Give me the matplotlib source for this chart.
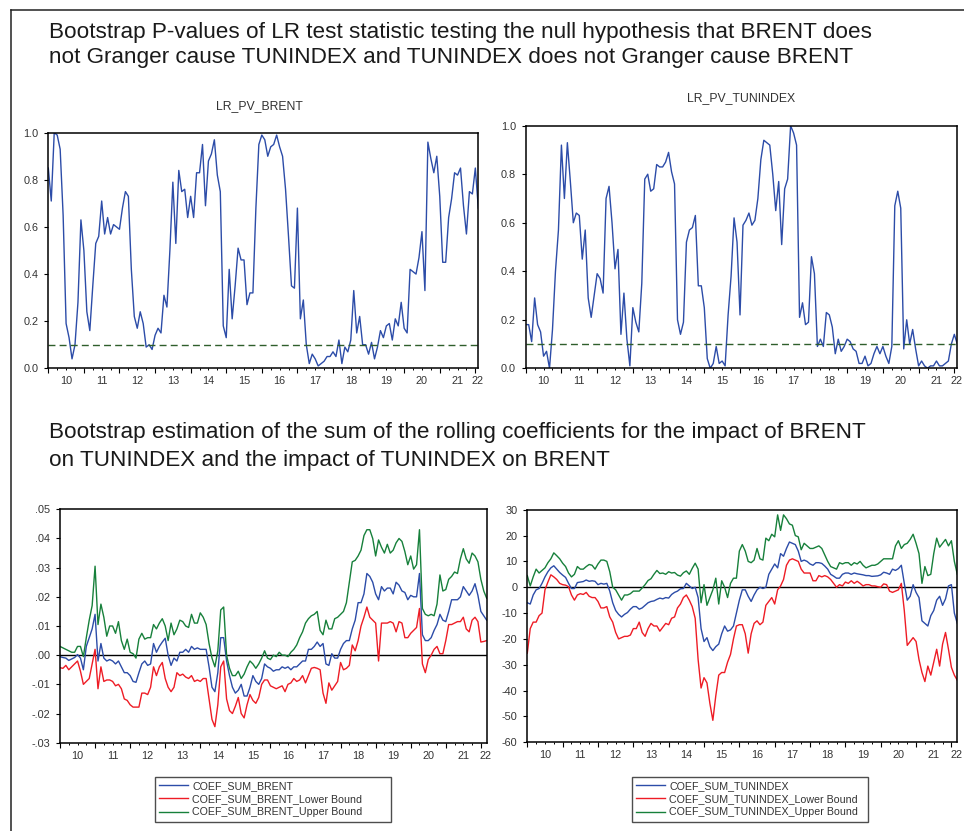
import numpy as np
import matplotlib
matplotlib.use("Agg")
import matplotlib.pyplot as plt
from matplotlib.transforms import offset_copy
from matplotlib.lines import Line2D

plt.rcParams["font.family"] = ["Liberation Sans", "DejaVu Sans"]
plt.rcParams["axes.unicode_minus"] = False

# monthly series, Jan 2010 onwards
year_labels = ["10", "11", "12", "13", "14", "15", "16", "17", "18", "19", "20", "21", "22"]

lr_pv_brent = [
    0.85, 0.71, 1.00, 0.99, 0.93, 0.65, 0.19, 0.13, 0.04, 0.10, 0.28, 0.63,
    0.50, 0.24, 0.16, 0.35, 0.53, 0.56, 0.71, 0.57, 0.64, 0.57, 0.61, 0.60,
    0.59, 0.68, 0.75, 0.73, 0.42, 0.22, 0.17, 0.24, 0.19, 0.09, 0.10, 0.08,
    0.14, 0.17, 0.15, 0.31, 0.26, 0.50, 0.79, 0.53, 0.84, 0.75, 0.76, 0.64,
    0.73, 0.64, 0.83, 0.83, 0.95, 0.69, 0.88, 0.91, 0.97, 0.82, 0.75, 0.18,
    0.13, 0.42, 0.21, 0.35, 0.51, 0.46, 0.46, 0.27, 0.32, 0.32, 0.68, 0.95,
    0.99, 0.97, 0.90, 0.94, 0.95, 0.99, 0.94, 0.90, 0.76, 0.56, 0.35, 0.34,
    0.68, 0.21, 0.29, 0.10, 0.02, 0.06, 0.04, 0.01, 0.02, 0.03, 0.05, 0.05,
    0.07, 0.05, 0.12, 0.02, 0.09, 0.07, 0.12, 0.33, 0.15, 0.22, 0.10, 0.10,
    0.06, 0.11, 0.04, 0.09, 0.16, 0.13, 0.18, 0.19, 0.12, 0.21, 0.18, 0.28,
    0.17, 0.15, 0.42, 0.41, 0.40, 0.47, 0.58, 0.33, 0.96, 0.89, 0.83, 0.90,
    0.73, 0.45, 0.45, 0.64, 0.72, 0.83, 0.82, 0.85, 0.69, 0.57, 0.75, 0.74,
    0.85, 0.68,
]

lr_pv_tunindex = [
    0.18, 0.18, 0.11, 0.29, 0.18, 0.15, 0.05, 0.07, 0.00, 0.16, 0.40, 0.57,
    0.92, 0.70, 0.93, 0.77, 0.60, 0.64, 0.63, 0.45, 0.57, 0.29, 0.21, 0.30,
    0.39, 0.37, 0.31, 0.70, 0.75, 0.60, 0.41, 0.49, 0.14, 0.31, 0.12, 0.01,
    0.25, 0.19, 0.15, 0.35, 0.78, 0.80, 0.73, 0.74, 0.84, 0.83, 0.83, 0.85,
    0.89, 0.81, 0.76, 0.20, 0.14, 0.19, 0.52, 0.57, 0.58, 0.63, 0.34, 0.34,
    0.25, 0.04, 0.00, 0.02, 0.09, 0.02, 0.03, 0.01, 0.22, 0.38, 0.62, 0.52,
    0.22, 0.59, 0.61, 0.64, 0.59, 0.61, 0.70, 0.86, 0.94, 0.93, 0.92, 0.80,
    0.65, 0.77, 0.51, 0.74, 0.78, 1.00, 0.97, 0.92, 0.21, 0.27, 0.18, 0.19,
    0.46, 0.39, 0.09, 0.12, 0.09, 0.23, 0.22, 0.17, 0.06, 0.12, 0.07, 0.09,
    0.12, 0.11, 0.08, 0.07, 0.02, 0.02, 0.05, 0.01, 0.02, 0.06, 0.09, 0.06,
    0.09, 0.05, 0.02, 0.09, 0.67, 0.73, 0.66, 0.08, 0.20, 0.10, 0.16, 0.08,
    0.01, 0.03, 0.01, 0.00, 0.01, 0.01, 0.03, 0.01, 0.01, 0.02, 0.03, 0.10,
    0.14, 0.10,
]

coef_sum_brent = [
    -0.0005, -0.0008, -0.001, -0.0018, -0.0013, -0.0008, 0.0002, -0.001, -0.005, 0.003, 0.006, 0.009,
    0.014, -0.002, 0.004, -0.001, -0.002, -0.0015, -0.002, -0.003, -0.002, -0.004, -0.006, -0.006,
    -0.007, -0.009, -0.0093, -0.006, -0.003, -0.002, -0.0035, -0.003, 0.004, 0.001, 0.003, 0.0045,
    0.0058, 0.000, -0.0035, -0.001, -0.002, 0.001, 0.001, 0.002, 0.001, 0.003, 0.002, 0.0025,
    0.002, 0.002, 0.002, -0.004, -0.011, -0.0125, -0.006, 0.006, 0.006, -0.002, -0.007, -0.011,
    -0.013, -0.012, -0.010, -0.014, -0.014, -0.011, -0.007, -0.009, -0.010, -0.008, -0.003, -0.004,
    -0.0045, -0.0055, -0.005, -0.005, -0.004, -0.0045, -0.004, -0.005, -0.004, -0.004, -0.003, -0.002,
    -0.002, 0.002, 0.002, 0.003, 0.0045, 0.003, 0.004, -0.003, -0.0035, 0.0005, -0.001, -0.001,
    0.002, 0.004, 0.005, 0.005, 0.009, 0.012, 0.018, 0.018, 0.021, 0.028, 0.027, 0.025,
    0.021, 0.019, 0.0235, 0.022, 0.023, 0.023, 0.021, 0.025, 0.024, 0.022, 0.0215, 0.019,
    0.0205, 0.020, 0.020, 0.028, 0.007, 0.005, 0.005, 0.006, 0.0085, 0.0105, 0.014, 0.012,
    0.0115, 0.015, 0.019, 0.019, 0.019, 0.020, 0.0235, 0.022, 0.0205, 0.022, 0.0245, 0.0205,
    0.015, 0.0135, 0.012,
]

coef_sum_brent_lower = [
    -0.0043, -0.0045, -0.0035, -0.005, -0.004, -0.003, -0.002, -0.0055, -0.010, -0.009, -0.008, -0.003,
    0.002, -0.0115, -0.004, -0.009, -0.0085, -0.0085, -0.009, -0.0105, -0.010, -0.0115, -0.015, -0.0155,
    -0.017, -0.0178, -0.0178, -0.0178, -0.013, -0.013, -0.0135, -0.011, -0.004, -0.007, -0.004, -0.0025,
    -0.008, -0.011, -0.0125, -0.011, -0.006, -0.007, -0.0065, -0.0075, -0.008, -0.007, -0.009, -0.0085,
    -0.009, -0.008, -0.008, -0.015, -0.022, -0.0245, -0.017, -0.004, -0.002, -0.015, -0.019, -0.020,
    -0.0175, -0.0145, -0.020, -0.0215, -0.017, -0.0135, -0.0155, -0.0165, -0.0145, -0.010, -0.0085, -0.0085,
    -0.0105, -0.011, -0.0115, -0.011, -0.0105, -0.0125, -0.010, -0.0095, -0.008, -0.009, -0.0085, -0.007,
    -0.0095, -0.007, -0.0045, -0.0042, -0.0045, -0.005, -0.013, -0.0165, -0.0095, -0.012, -0.0105, -0.009,
    -0.0025, -0.005, -0.0045, -0.0035, 0.0035, 0.0015, 0.005, 0.010, 0.013, 0.0165, 0.013, 0.012,
    0.011, -0.002, 0.011, 0.011, 0.011, 0.0115, 0.011, 0.008, 0.0115, 0.011, 0.006, 0.006,
    0.0075, 0.0085, 0.0095, 0.016, -0.003, -0.006, -0.0015, 0.000, 0.002, 0.003, 0.0005, 0.0005,
    0.005, 0.0105, 0.0105, 0.011, 0.0115, 0.0115, 0.013, 0.009, 0.008, 0.012, 0.013, 0.0115,
    0.0045, 0.0047, 0.005,
]

coef_sum_brent_upper = [
    0.003, 0.0025, 0.002, 0.0015, 0.001, 0.001, 0.003, 0.003, -0.0005, 0.006, 0.012, 0.017,
    0.0305, 0.0105, 0.0175, 0.013, 0.0065, 0.010, 0.010, 0.0075, 0.0115, 0.005, 0.002, 0.0055,
    0.001, 0.0005, -0.001, 0.0055, 0.0075, 0.0055, 0.006, 0.006, 0.0105, 0.009, 0.011, 0.0125,
    0.010, 0.005, 0.011, 0.007, 0.009, 0.012, 0.0115, 0.010, 0.0095, 0.014, 0.011, 0.011,
    0.0145, 0.013, 0.0105, 0.004, -0.001, -0.004, 0.0015, 0.0155, 0.0165, 0.000, -0.0045, -0.007,
    -0.007, -0.0055, -0.008, -0.0065, -0.004, -0.002, -0.003, -0.0045, -0.003, -0.001, 0.0015, -0.001,
    -0.0015, 0.000, -0.0005, 0.001, 0.000, 0.000, -0.0005, 0.001, 0.002, 0.0035, 0.006, 0.008,
    0.011, 0.0125, 0.0135, 0.014, 0.015, 0.0085, 0.007, 0.012, 0.009, 0.009, 0.0125, 0.013,
    0.014, 0.015, 0.018, 0.025, 0.032, 0.0325, 0.034, 0.036, 0.041, 0.043, 0.043, 0.040,
    0.034, 0.0395, 0.037, 0.035, 0.038, 0.035, 0.036, 0.0385, 0.040, 0.039, 0.0355, 0.031,
    0.034, 0.0295, 0.031, 0.043, 0.016, 0.014, 0.0135, 0.014, 0.0135, 0.0175, 0.0275, 0.022,
    0.0225, 0.026, 0.027, 0.0285, 0.028, 0.033, 0.0365, 0.033, 0.0315, 0.035, 0.034, 0.032,
    0.026, 0.022, 0.0195,
]

coef_sum_tunindex = [
    -6, -6.5, -3, -1, -0.5, 1.5, 4, 6, 7.5, 8.3, 7, 5.7,
    4.7, 3.8, 1.5, -0.5, -0.5, 1.8, 2, 2.2, 2.8, 2.3, 2.5, 2.3,
    1, 1.5, 1.2, 1.5, -1.5, -6, -9, -10.5, -11.5, -10.5, -9.8, -8.5,
    -7.5, -7.5, -8.5, -8, -7, -6, -5.5, -5.3, -4.7, -4.2, -4.5, -4,
    -4.2, -2.8, -2, -1.5, -0.6, -0.5, 1.5, 0.5, -0.5, 0, -4, -16,
    -21, -19.5, -23, -24.5, -23, -22, -18, -15, -17, -16.5, -15, -10,
    -5, -1, -1, -3.5, -5.5, -3, -1, 0, -0.5, 0, 5, 7,
    9, 7.5, 13, 12, 15, 17.5, 17, 16.5, 14, 10, 10.5, 10,
    9, 8.5, 9.5, 9.5, 9.2, 8.2, 7, 5, 4.3, 3.5, 3.5, 5,
    5.5, 5.5, 5, 5.5, 5.2, 5, 4.8, 4.5, 4.5, 4.2, 4.3, 4.4,
    4.8, 5.8, 5.5, 5, 7, 6.5, 7.2, 8.5, 1.5, -5, -3.5, 1,
    -2, -4, -13, -14, -15, -11, -9, -5, -3.5, -7, -4.5, 0.5,
    1, -10, -14,
]

coef_sum_tunindex_lower = [
    -25.5, -16, -13.5, -13.5, -11, -10, -1, 2, 4.8, 4, 3, 1.5,
    1, 0.8, 0.2, -3, -5, -3, -2.5, -2.8, -2, -3.5, -4, -4,
    -5.5, -8, -8, -7.5, -11.5, -13.5, -17.5, -20, -19.5, -19, -19, -18.5,
    -16, -16, -13.5, -17.5, -19, -16, -14, -15, -15, -17, -15.5, -14,
    -14.5, -12, -11.5, -8, -6.5, -4, -3, -5, -7.5, -12, -28, -39,
    -35, -37, -45, -51.5, -42, -34, -33, -33, -29, -26, -20, -15,
    -14.5, -14.5, -18, -25.5, -18, -14, -13, -14.5, -13.5, -7, -5.5, -4,
    -6.5, -1, 0.5, 3, 8.5, 10.5, 11, 10.5, 10, 7, 5.5, 5.5,
    5.5, 2.5, 2.5, 4.5, 4, 4.5, 4, 3, 1.5, 0, 1, 0.5,
    2, 1.5, 2.5, 1.5, 2.3, 1.5, 0.5, 1, 1, 0.5, 0.5, 0.2,
    0, 1.3, 1, -1.5, -2, -1.5, -1, 1.5, -9, -22.5, -21, -19.5,
    -21, -28, -33, -36.5, -30.5, -34, -29, -24, -30.5, -22, -17.5, -24,
    -31, -34, -36,
]

coef_sum_tunindex_upper = [
    4.5, 0.5, 4, 7, 5.5, 6.5, 7.5, 9.5, 11, 13.3, 12.2, 11,
    9.3, 8, 5.5, 4, 5, 8, 7, 7, 8, 8.8, 8.5, 7,
    9, 10.5, 10.5, 10, 6, 0, -1, -3, -5, -3, -3, -2.5,
    -1.5, -1.5, -1.5, -0.3, 1, 2.6, 3.3, 5, 6.5, 5.3, 5.5, 5,
    6, 5.5, 5.7, 4.7, 4.3, 5.6, 6.3, 5, 7.3, 9.3, 7, -6,
    1, -7, -4, -1, 3.5, -6.5, 2.5, 0, -4, 1.5, 3.5, 3.5,
    14, 16.5, 14, 10, 9.5, 10.5, 15, 11, 10.5, 19, 18, 20.5,
    19.5, 28, 22, 28, 26.5, 24.5, 24, 20, 19.5, 14.5, 17, 16,
    15, 15, 15.5, 16, 15, 12.5, 10, 8, 7.5, 7, 9.5, 9,
    9.5, 9.5, 8.5, 9.5, 9, 10, 8.5, 7.5, 8, 8.5, 8.5, 9,
    10, 11, 11, 11, 11, 16, 18, 15, 16.5, 17, 18.5, 20.5,
    17, 13, 1.5, 8, 4.5, 5, 13, 19, 15.5, 17, 18.5, 16,
    18, 10, 5,
]

BLUE = "#2c4ca8"
RED = "#ee1c25"
GREEN = "#17803b"
DASH_GREEN = "#2f5e2c"

W, H = 964, 831
fig = plt.figure(figsize=(W / 100, H / 100), dpi=100)


def px_axes(left, top, right, bottom):
    return fig.add_axes([left / W, 1 - bottom / H, (right - left) / W, (bottom - top) / H])


def style_axes(ax, n):
    ax.set_xlim(0, n - 1)
    for s in ax.spines.values():
        s.set_linewidth(1.1)
    ax.set_xticks(np.arange(0, n, 12))
    ax.set_xticks(np.arange(0, n, 3), minor=True)
    ax.set_xticklabels([])
    ax.tick_params(axis="x", which="major", direction="out", length=3.4, width=0.8, top=False)
    ax.tick_params(axis="x", which="minor", direction="out", length=1.7, width=0.7, top=False)
    ax.tick_params(axis="y", which="major", direction="out", length=3.0, width=0.8,
                   labelsize=7.8, pad=4, right=False, labelcolor="#333333")
    trans = offset_copy(ax.get_xaxis_transform(), fig=fig, y=-9.4, units="points")
    for i, lab in enumerate(year_labels):
        xp = 12 * i + 6
        if xp > n - 1:
            xp = n - 1.3
        ax.text(xp, 0, lab, transform=trans, ha="center", va="center",
                fontsize=7.8, color="#333333")


# outer frame
fig.add_artist(Line2D([11 / W, 11 / W], [0, 1 - 10 / H], color="#222222", lw=1.1))
fig.add_artist(Line2D([11 / W, 1], [1 - 10 / H, 1 - 10 / H], color="#222222", lw=1.1))

TITLE_FS = 16.2
fig.text(49 / W, 1 - 38 / H,
         "Bootstrap P-values of LR test statistic testing the null hypothesis that BRENT does",
         fontsize=TITLE_FS, va="baseline", ha="left", color="#1a1a1a")
fig.text(49 / W, 1 - 63 / H,
         "not Granger cause TUNINDEX and TUNINDEX does not Granger cause BRENT",
         fontsize=TITLE_FS, va="baseline", ha="left", color="#1a1a1a")
fig.text(49 / W, 1 - 438 / H,
         "Bootstrap estimation of the sum of the rolling coefficients for the impact of BRENT",
         fontsize=TITLE_FS, va="baseline", ha="left", color="#1a1a1a")
fig.text(49 / W, 1 - 466 / H,
         "on TUNINDEX and the impact of TUNINDEX on BRENT",
         fontsize=TITLE_FS, va="baseline", ha="left", color="#1a1a1a")

# top left
ax1 = px_axes(48.3, 132.7, 478.3, 368.3)
ax1.plot(np.arange(len(lr_pv_brent)), lr_pv_brent, color=BLUE, lw=1.0)
ax1.axhline(0.1, color=DASH_GREEN, lw=1.0, dashes=(5, 3))
style_axes(ax1, len(lr_pv_brent))
ax1.set_ylim(0, 1.0)
ax1.set_yticks(np.arange(0, 1.01, 0.2))
ax1.set_yticklabels(["%.1f" % v for v in np.arange(0, 1.01, 0.2)])
fig.text(259 / W, 1 - 105.7 / H, "LR_PV_BRENT", fontsize=8.8, ha="center", va="center",
         color="#333333")

# top right
ax2 = px_axes(525.7, 125.7, 957.3, 368.3)
ax2.plot(np.arange(len(lr_pv_tunindex)), lr_pv_tunindex, color=BLUE, lw=1.0)
ax2.axhline(0.1, color=DASH_GREEN, lw=1.0, dashes=(5, 3))
style_axes(ax2, len(lr_pv_tunindex))
ax2.set_ylim(0, 1.0)
ax2.set_yticks(np.arange(0, 1.01, 0.2))
ax2.set_yticklabels(["%.1f" % v for v in np.arange(0, 1.01, 0.2)])
fig.text(740.7 / W, 1 - 98.3 / H, "LR_PV_TUNINDEX", fontsize=8.8, ha="center", va="center",
         color="#333333")

# bottom left
ax3 = px_axes(60, 509.3, 486.7, 742.7)
ax3.axhline(0, color="black", lw=1.0)
ax3.plot(np.arange(len(coef_sum_brent)), coef_sum_brent, color=BLUE, lw=1.0,
         label="COEF_SUM_BRENT")
ax3.plot(np.arange(len(coef_sum_brent_lower)), coef_sum_brent_lower, color=RED, lw=1.0,
         label="COEF_SUM_BRENT_Lower Bound")
ax3.plot(np.arange(len(coef_sum_brent_upper)), coef_sum_brent_upper, color=GREEN, lw=1.0,
         label="COEF_SUM_BRENT_Upper Bound")
style_axes(ax3, len(coef_sum_brent))
ax3.set_ylim(-0.03, 0.05)
yt3 = np.arange(-3, 6) / 100
ax3.set_yticks(yt3)
ax3.set_yticklabels([("%.2f" % v).replace("0.", ".") for v in yt3])

# bottom right
ax4 = px_axes(527.3, 509.7, 957.3, 742.3)
ax4.axhline(0, color="black", lw=1.0)
ax4.plot(np.arange(len(coef_sum_tunindex)), coef_sum_tunindex, color=BLUE, lw=1.0,
         label="COEF_SUM_TUNINDEX")
ax4.plot(np.arange(len(coef_sum_tunindex_lower)), coef_sum_tunindex_lower, color=RED, lw=1.0,
         label="COEF_SUM_TUNINDEX_Lower Bound")
ax4.plot(np.arange(len(coef_sum_tunindex_upper)), coef_sum_tunindex_upper, color=GREEN, lw=1.0,
         label="COEF_SUM_TUNINDEX_Upper Bound")
style_axes(ax4, len(coef_sum_tunindex))
ax4.set_ylim(-60, 30)
ax4.set_yticks(np.arange(-60, 31, 10))

# legends
for ax, (l, r) in ((ax3, (155, 390.7)), (ax4, (632, 868))):
    top, bot = 776.7, 822
    leg = ax.legend(loc="upper left", mode="expand",
                    bbox_to_anchor=(l / W, 1 - bot / H, (r - l) / W, (bot - top) / H),
                    bbox_transform=fig.transFigure, fontsize=7.7, frameon=True,
                    fancybox=False, shadow=False, handlelength=2.7, handletextpad=0.4,
                    labelspacing=0.3, borderpad=0.4, borderaxespad=0)
    leg.get_frame().set_edgecolor("#222222")
    leg.get_frame().set_linewidth(1.0)
    for t in leg.get_texts():
        t.set_color("#333333")

fig.savefig("out.png", dpi=100)
